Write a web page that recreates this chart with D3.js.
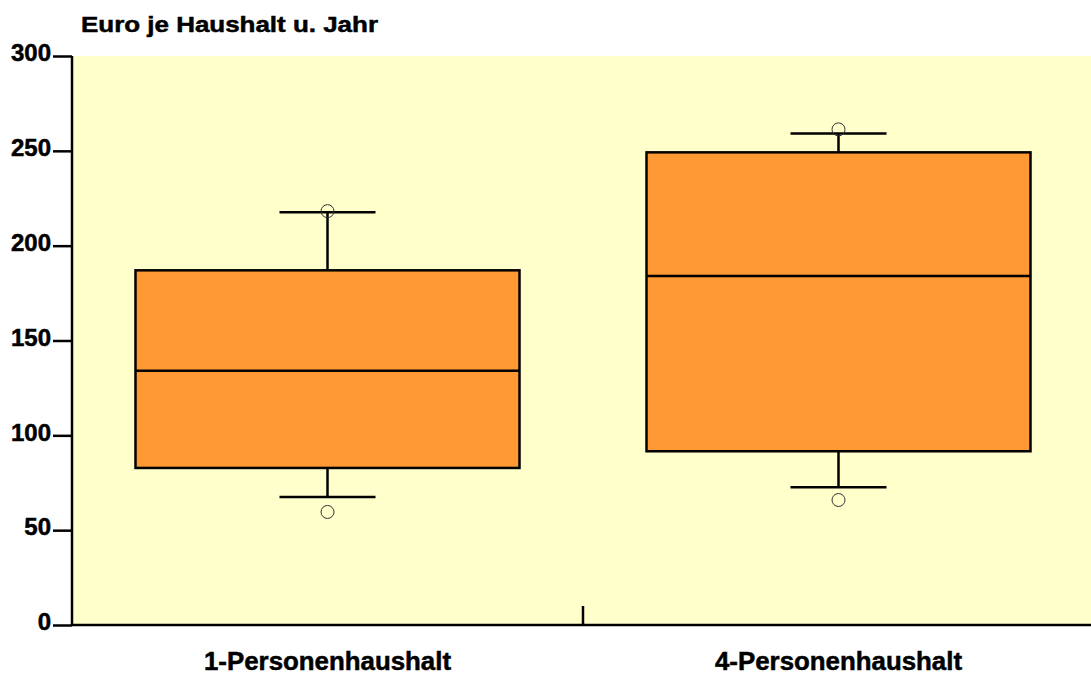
<!DOCTYPE html>
<html>
<head>
<meta charset="utf-8">
<script src="https://cdn.jsdelivr.net/npm/d3@7"></script>
<style>
body { margin: 0; background: #fff; }
svg text { font-family: "Liberation Sans", Arial, sans-serif; font-weight: bold; fill: #000; stroke: #000; stroke-width: 0.5px; }
</style>
</head>
<body>
<svg id="chart" width="1091" height="677"></svg>
<script>
// box plot statistics
var categories = ["1-Personenhaushalt", "4-Personenhaushalt"];
var whiskerLow = [67.5, 72.6];
var q1 = [82.8, 91.6];
var median = [134.1, 184.0];
var q3 = [187.0, 249.2];
var whiskerHigh = [217.6, 259.2];
var outliers = [[59.6, 218.2], [65.9, 261.3]];
var yTicks = [0, 50, 100, 150, 200, 250, 300];
var yTitle = "Euro je Haushalt u. Jahr";

var svg = d3.select("#chart");
var plotLeft = 72, plotRight = 1094, plotTop = 56, plotBottom = 625;

var x = d3.scaleBand().domain(categories).range([plotLeft, plotRight]);
var y = d3.scaleLinear().domain([0, 300]).range([plotBottom, plotTop]);

// plot background
svg.append("rect")
	.attr("x", plotLeft).attr("y", plotTop)
	.attr("width", plotRight - plotLeft).attr("height", plotBottom - plotTop)
	.attr("fill", "#ffffcc");

var boxW = 384, capW = 96;

var data = categories.map(function(c, i){
	return {cat: c, lo: whiskerLow[i], q1: q1[i], med: median[i], q3: q3[i], hi: whiskerHigh[i], out: outliers[i]};
});

var g = svg.selectAll("g.box").data(data).enter().append("g").attr("class", "box");

g.each(function(d){
	var el = d3.select(this);
	var cx = x(d.cat) + x.bandwidth() / 2;
	// whisker stems
	el.append("line").attr("x1", cx).attr("x2", cx).attr("y1", y(d.q3)).attr("y2", y(d.hi))
		.attr("stroke", "#000").attr("stroke-width", 2.5);
	el.append("line").attr("x1", cx).attr("x2", cx).attr("y1", y(d.q1)).attr("y2", y(d.lo))
		.attr("stroke", "#000").attr("stroke-width", 2.5);
	// caps
	[d.hi, d.lo].forEach(function(v){
		el.append("line").attr("x1", cx - capW / 2).attr("x2", cx + capW / 2).attr("y1", y(v)).attr("y2", y(v))
			.attr("stroke", "#000").attr("stroke-width", 2.5);
	});
	// box
	el.append("rect")
		.attr("x", cx - boxW / 2).attr("y", y(d.q3))
		.attr("width", boxW).attr("height", y(d.q1) - y(d.q3))
		.attr("fill", "#ff9933").attr("stroke", "#000").attr("stroke-width", 2.5);
	el.append("line").attr("x1", cx - boxW / 2).attr("x2", cx + boxW / 2).attr("y1", y(d.med)).attr("y2", y(d.med))
		.attr("stroke", "#000").attr("stroke-width", 2.5);
	// outliers
	d.out.forEach(function(v){
		el.append("circle").attr("cx", cx).attr("cy", y(v)).attr("r", 6.5)
			.attr("fill", "none").attr("stroke", "#333").attr("stroke-width", 1);
	});
});

// y axis
var yAxis = svg.append("g").attr("transform", "translate(" + plotLeft + ",0)")
	.call(d3.axisLeft(y).tickValues(yTicks).tickSize(19).tickPadding(2).tickFormat(d3.format("d")));
yAxis.select(".domain").attr("stroke-width", 2.5).attr("d", "M0," + plotTop + "V" + plotBottom);
yAxis.selectAll(".tick line").attr("stroke-width", 2.5);
yAxis.selectAll(".tick text").style("font-size", "24px").attr("dy", "0.2em");

// x axis
var xAxis = svg.append("g").attr("transform", "translate(0," + plotBottom + ")")
	.call(d3.axisBottom(x).tickSize(0).tickPadding(0));
xAxis.select(".domain").attr("stroke-width", 2.5).attr("d", "M" + plotLeft + ",0H" + plotRight);
xAxis.selectAll(".tick text")
	.attr("dy", null).attr("y", 45)
	.style("font-size", "25px")
	.attr("textLength", 247).attr("lengthAdjust", "spacingAndGlyphs");

// divider between the two categories
svg.append("line")
	.attr("x1", x(categories[1])).attr("x2", x(categories[1]))
	.attr("y1", plotBottom - 19).attr("y2", plotBottom)
	.attr("stroke", "#000").attr("stroke-width", 2.5);

svg.append("text").attr("x", 81).attr("y", 32).style("font-size", "22px")
	.attr("textLength", 297).attr("lengthAdjust", "spacingAndGlyphs")
	.text(yTitle);
</script>
</body>
</html>
